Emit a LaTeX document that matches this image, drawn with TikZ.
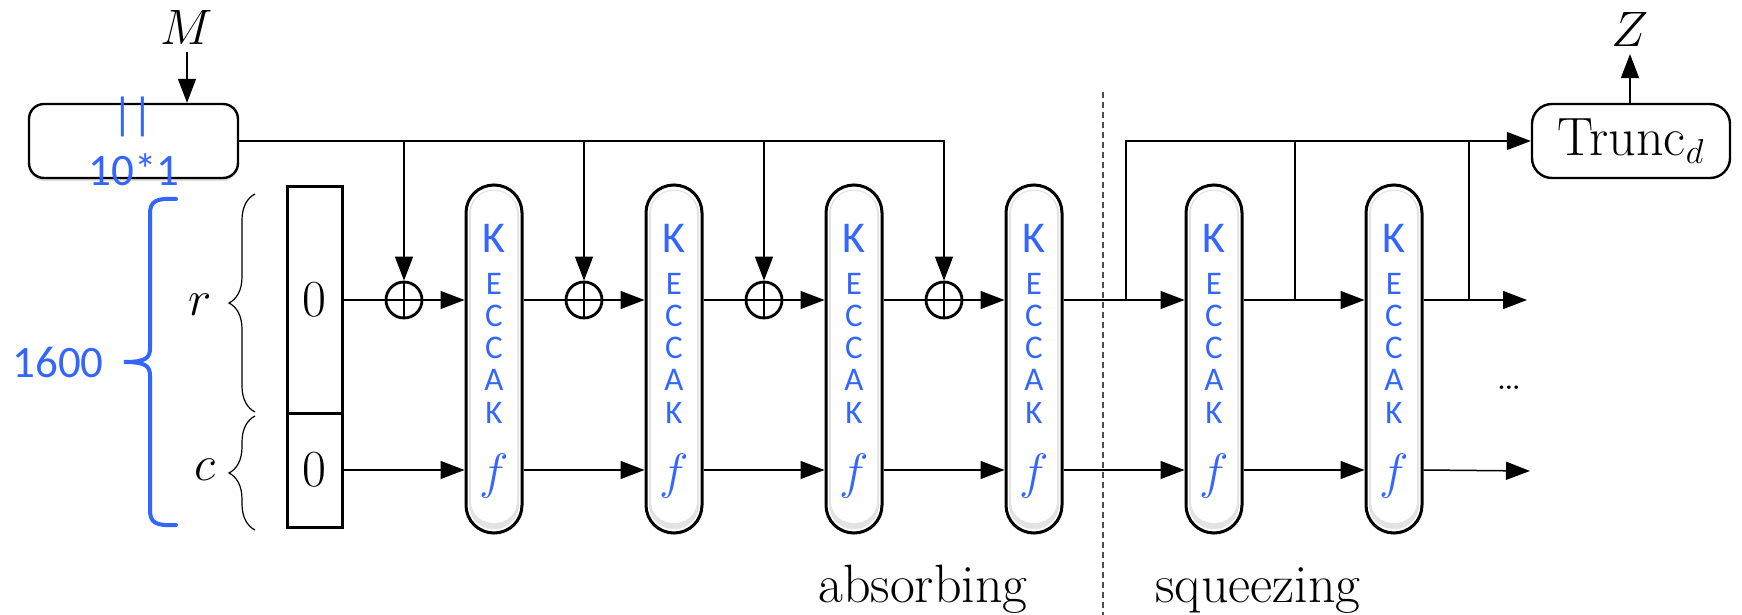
\documentclass[tikz,border=0pt]{standalone}
\usepackage{fontspec}
\newfontfamily\carlito{Carlito}
\usetikzlibrary{arrows.meta,decorations.pathreplacing,calc,shadows}
\definecolor{kblue}{RGB}{51,102,255}

\begin{document}
\begin{tikzpicture}[x=0.5pt,y=-0.5pt,
  wire/.style={line width=0.75pt},
  arr/.style={wire,-{Triangle[length=12pt,width=9pt]}},
  kbox/.style={draw,fill=white,line width=1.5pt,rounded corners=13.9pt,
               minimum width=28pt,minimum height=174pt,inner sep=0pt},
  xorc/.style={circle,draw,line width=1.4pt,minimum size=18pt,inner sep=0pt},
  statebox/.style={draw,line width=1.5pt,minimum width=27.5pt,inner sep=0pt,
               font=\fontsize{26}{28}\selectfont},
  roundbox/.style={draw,fill=white,line width=1.2pt,minimum height=37pt,inner sep=0pt},
  lbl/.style={font=\fontsize{27}{30}\selectfont},
  kbig/.style={text=kblue,font=\carlito\fontsize{22}{24}\selectfont,inner sep=0pt},
  ksmall/.style={text=kblue,font=\carlito\fontsize{16.5}{18}\selectfont,inner sep=0pt},
  kf/.style={text=kblue,font=\fontsize{27}{28}\selectfont,inner sep=0pt},
  bluetxt/.style={text=kblue,font=\carlito\fontsize{22.5}{24}\selectfont,inner sep=0pt},
  phase/.style={font=\fontsize{27}{30}\selectfont,anchor=base,inner sep=0pt},
]
\useasboundingbox (0,0) rectangle (1742,615);

% padding box with message input
\node[roundbox,rounded corners=7.5pt,minimum width=104.5pt,
      drop shadow={shadow xshift=0pt,shadow yshift=-1.5pt,opacity=0.25}] (pad) at (133.5,141) {};
\node[bluetxt] (padbars) at (133,117) {||};
\node[bluetxt] (padrule) at (134,170) {10*1};
\node[lbl] (M) at (187,28) {$M$};
\draw[arr] (M.south) -- (pad.north -| M);

% truncation box and output
\node[roundbox,rounded corners=10pt,minimum width=99pt,font=\fontsize{27}{30}\selectfont]
      (T) at (1631,141) {Trunc$_d$};
\node[lbl] (Z) at (1630,30) {$Z$};
\draw[arr] (T.north -| Z) -- (Z.south);

% initial state
\node[statebox,minimum height=113pt] (sr) at (314.5,300) {0};
\node[statebox,minimum height=57pt] (sc) at (314.5,470) {0};

% braces for r, c and the full width
\draw[decorate,decoration={brace,amplitude=13pt},line width=0.6pt] (255,412) -- (255,194);
\draw[decorate,decoration={brace,amplitude=13pt},line width=0.6pt] (255,530) -- (255,416);
\node[lbl] (rl) at (200,305) {$r$};
\node[lbl] (cl) at (205,470) {$c$};
\draw[kblue,line width=2pt,line cap=round]
  (176,199) .. controls (156,198) and (150,201) .. (150,214) -- (150,348)
  .. controls (150,358) and (146,362) .. (124,362)
  .. controls (146,362) and (150,366) .. (150,376) -- (150,510)
  .. controls (150,523) and (156,526) .. (176,525);
\node[bluetxt] (width) at (58,362) {1600};

% permutation boxes
\foreach \i/\x in {1/494,2/674,3/854,4/1034,5/1214,6/1394}{
  \node[kbox] (k\i) at (\x,359) {};
  \fill[gray!22,rounded corners=12pt] (\x-25,190) rectangle (\x+25,529);
  \fill[white,rounded corners=11pt] (\x-23,191) rectangle (\x+23,523);
  \node[kbig]   (k\i-1) at (\x,238) {K};
  \node[ksmall] (k\i-2) at (\x,284) {E};
  \node[ksmall] (k\i-3) at (\x,316) {C};
  \node[ksmall] (k\i-4) at (\x,348) {C};
  \node[ksmall] (k\i-5) at (\x,380) {A};
  \node[ksmall] (k\i-6) at (\x,413) {K};
  \node[kf]     (k\i-f) at (\x,476) {$f$};
}

% xor gates
\foreach \i/\x in {1/404,2/584,3/764,4/944}{
  \node[xorc] (x\i) at (\x,300) {};
  \draw[line width=1.2pt] (x\i.north) -- (x\i.south) (x\i.west) -- (x\i.east);
}

% message blocks fed into the xor gates
\draw[arr] (pad.east) -| (x4.north);
\foreach \i in {1,2,3}{
  \draw[arr] (x\i |- pad.east) -- (x\i.north);
}

% absorbing phase
\draw[wire] (sr.east) -- (x1.west);
\draw[arr] (sc.east) -- (sc -| k1.west);
\foreach \i/\j in {1/2,2/3,3/4}{
  \draw[arr] (x\i.east) -- (x\i -| k\i.west);
  \draw[wire] (x\i -| k\i.east) -- (x\j.west);
  \draw[arr] (sc -| k\i.east) -- (sc -| k\j.west);
}
\draw[arr] (x4.east) -- (x4 -| k4.west);

% squeezing phase
\coordinate (tp1) at (1126,300);
\coordinate (tp2) at (1295,300);
\coordinate (tp3) at (1469,300);
\coordinate (or) at (1527,300);
\coordinate (oc) at (1530,471);
\draw[arr] (sr -| k4.east) -- (sr -| k5.west);
\draw[arr] (sc -| k4.east) -- (sc -| k5.west);
\draw[arr] (sr -| k5.east) -- (sr -| k6.west);
\draw[arr] (sc -| k5.east) -- (sc -| k6.west);
\draw[arr] (sr -| k6.east) -- (or);
\draw[arr] (sc -| k6.east) -- (oc);
\draw[arr] (tp1) |- (T.west);
\draw[wire] (tp2) -- (tp2 |- T.west);
\draw[wire] (tp3) -- (tp3 |- T.west);
\node[font=\fontsize{22}{24}\selectfont] (dots) at (1509,388) {\ldots};

% phase separator and labels
\draw[line width=0.6pt,gray!60!black,dash pattern=on 3pt off 2pt] (1103,92) -- (1103,615);
\node[phase] (absorb) at (923,602) {absorbing};
\node[phase] (squeeze) at (1258,602) {squeezing};
\end{tikzpicture}
\end{document}
